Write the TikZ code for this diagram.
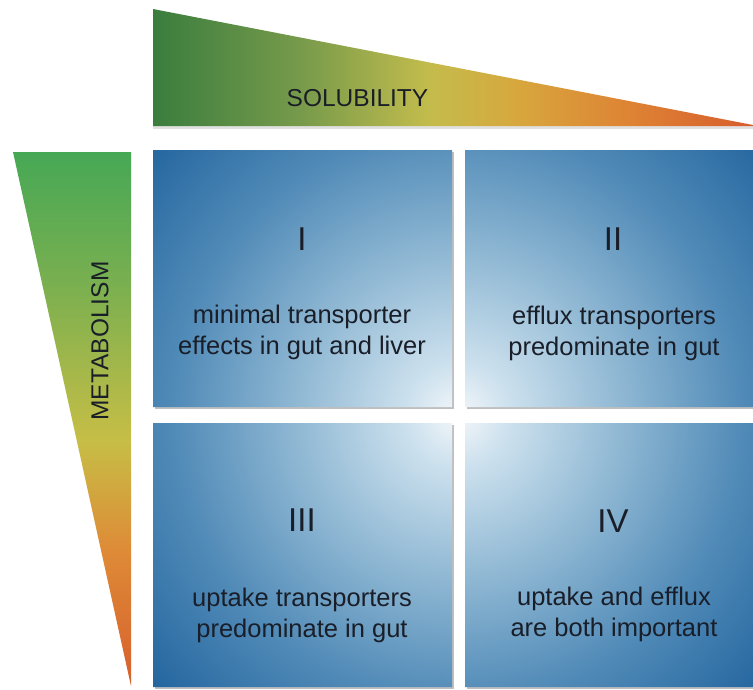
\documentclass[tikz,border=0pt]{standalone}
\usepackage{fontspec}
\setmainfont{Liberation Sans}
\definecolor{txt}{RGB}{25,30,40}
% solubility (horizontal)
\definecolor{s0}{RGB}{58,125,62}
\definecolor{s1}{RGB}{120,155,75}
\definecolor{s2}{RGB}{195,188,76}
\definecolor{s3}{RGB}{215,168,62}
\definecolor{s4}{RGB}{222,130,52}
\definecolor{s5}{RGB}{215,92,45}
\pgfdeclarehorizontalshading{solshade}{100bp}{color(0bp)=(s0); color(25bp)=(s0); color(37.5bp)=(s1); color(48bp)=(s2); color(55bp)=(s3); color(65bp)=(s4); color(75bp)=(s5); color(100bp)=(s5)}
% metabolism (vertical, bottom to top)
\definecolor{m0}{RGB}{215,95,45}
\definecolor{m1}{RGB}{222,140,55}
\definecolor{m2}{RGB}{198,190,70}
\definecolor{m3}{RGB}{120,175,80}
\definecolor{m4}{RGB}{70,168,85}
\pgfdeclareverticalshading{metshade}{100bp}{color(0bp)=(m0); color(25bp)=(m0); color(38bp)=(m1); color(48bp)=(m2); color(63bp)=(m3); color(75bp)=(m4); color(100bp)=(m4)}
% quadrants (radial)
\definecolor{b0}{RGB}{244,247,250}
\definecolor{b1}{RGB}{205,225,238}
\definecolor{b2}{RGB}{145,185,212}
\definecolor{b3}{RGB}{80,138,183}
\definecolor{b4}{RGB}{32,98,157}
\pgfdeclareradialshading{quadshade}{\pgfpoint{0bp}{0bp}}{color(0bp)=(b0); color(3bp)=(b1); color(9.5bp)=(b2); color(17bp)=(b3); color(25bp)=(b4); color(50bp)=(b4)}
\tikzset{
  numtext/.style={text=txt, font=\fontsize{33}{38}\selectfont, inner sep=0pt},
  bodytext/.style={text=txt, font=\fontsize{25.5}{31}\selectfont, align=center, inner sep=0pt},
  axistext/.style={text=txt, font=\fontsize{24.5}{29}\selectfont, inner sep=0pt},
  shadowbox/.style={fill=black!25}
}
\begin{document}
\begin{tikzpicture}[x=1pt,y=-1pt]
\useasboundingbox (0,0) rectangle (753,689);
% top triangle
\fill[black!12] (153,126) rectangle (753,128.5);
\shade[shading=solshade] (153,9) -- (753,125) -- (753,126) -- (153,126) -- cycle;
% left triangle
\shade[shading=metshade] (13,152) -- (131,152) -- (131,686) -- cycle;
% quadrant shadows
\fill[shadowbox] (155,152) rectangle (454,409);
\fill[shadowbox] (467,152) rectangle (755,409);
\fill[shadowbox] (155,425) rectangle (454,689);
\fill[shadowbox] (467,425) rectangle (755,689);
% quadrants
\begin{scope}
  \clip (153,150) rectangle (452,407) (465,150) rectangle (753,407)
        (153,423) rectangle (452,687) (465,423) rectangle (753,687);
  \shade[shading=quadshade] (458,415) circle (420pt);
\end{scope}
% labels
\node[axistext] (sol) at (357.5,98.5) {SOLUBILITY};
\node[axistext, rotate=90] (met) at (100,341) {METABOLISM};
\node[numtext] (n1) at (302,239) {I};
\node[numtext] (n2) at (613,239.5) {II};
\node[numtext] (n3) at (302,520) {III};
\node[numtext] (n4) at (613,521) {IV};
\node[bodytext] (t1) at (302,332) {minimal transporter\\effects in gut and liver};
\node[bodytext] (t2) at (614,333.5) {efflux transporters\\predominate in gut};
\node[bodytext] (t3) at (302,615) {uptake transporters\\predominate in gut};
\node[bodytext] (t4) at (614,614.5) {uptake and efflux\\are both important};
\end{tikzpicture}
\end{document}
